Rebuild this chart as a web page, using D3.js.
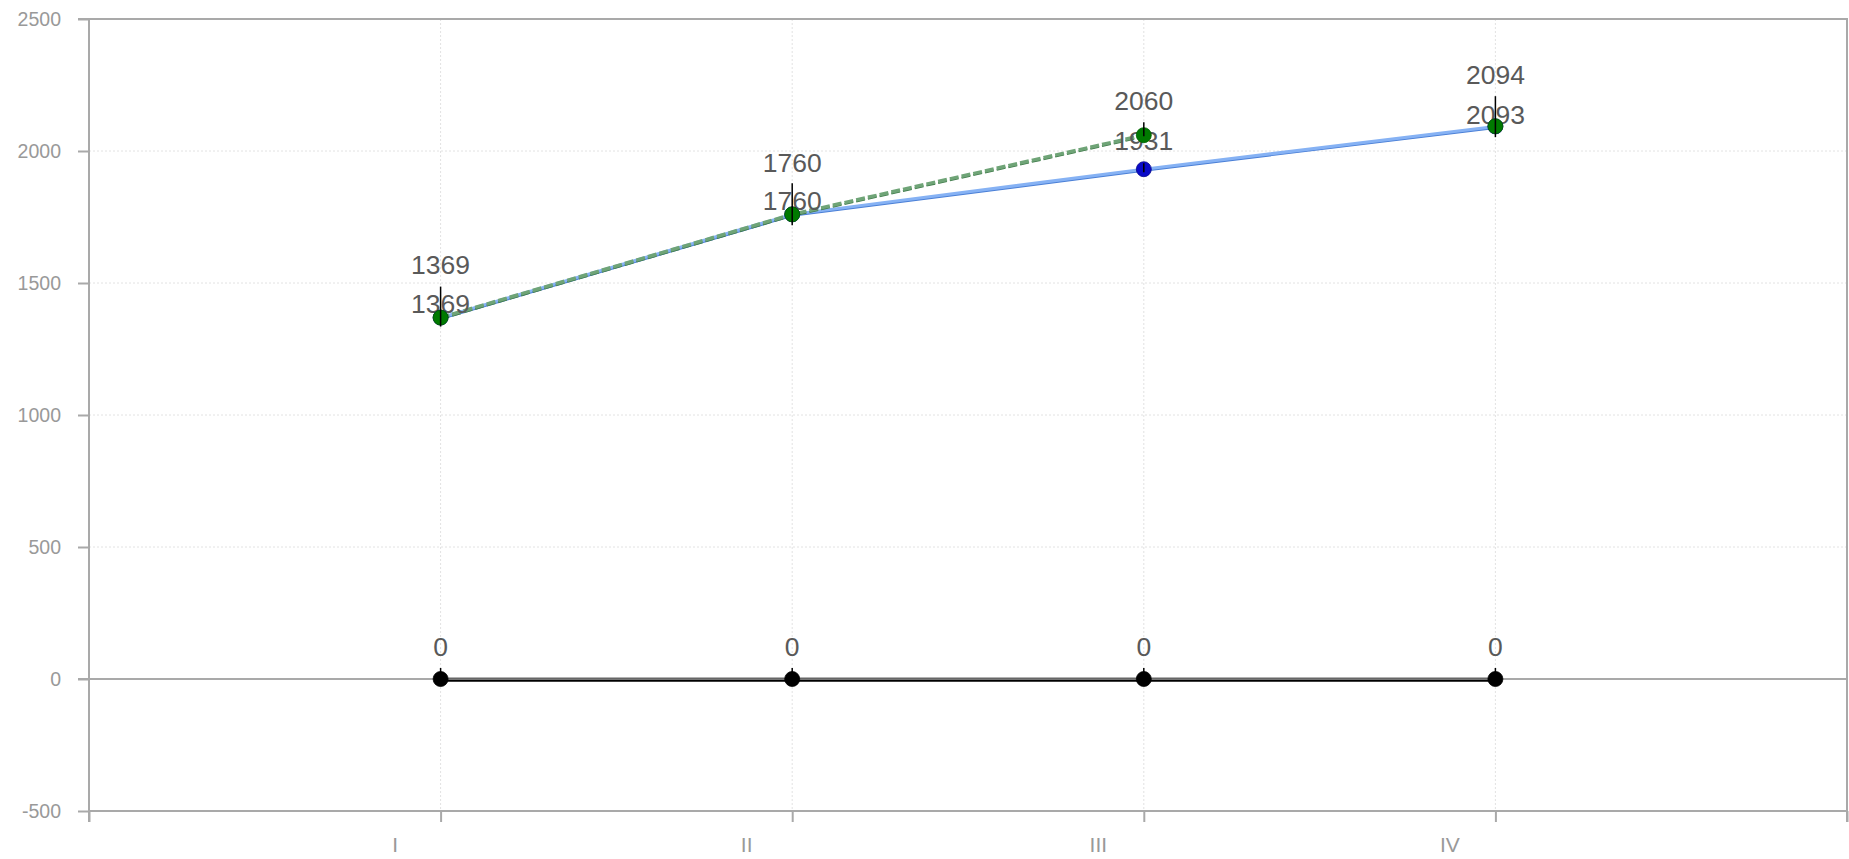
<!DOCTYPE html>
<html>
<head>
<meta charset="utf-8">
<script src="https://cdn.jsdelivr.net/npm/d3@7"></script>
<style>
  html, body { margin: 0; padding: 0; background: #fff; }
  svg { display: block; font-family: "Liberation Sans", Arial, Helvetica, sans-serif; }
</style>
</head>
<body>
<svg id="chart" width="1849" height="859"></svg>
<script>
// ---- data ----
const categories = ["I", "II", "III", "IV"];
const blueValues = [1369, 1760, 1931, 2093];
const greenValues = [1369, 1760, 2060, 2094];
const zeroValues = [0, 0, 0, 0];
const yTickValues = [-500, 0, 500, 1000, 1500, 2000, 2500];
const xTickValues = [0, 1, 2, 3, 4, 5];

// ---- layout (pixels, not data) ----
const plotL = 89, plotR = 1847, plotT = 19, plotB = 811;
const greenLabelDy = [-44, -42, -25, -42];
const blueLabelDy = [-5, -4, -19, -2];
const zeroLabelDy = -23;
const greenSpike = [[-31, 9], [-31, 11], [-13, 1], [-30, 11]];
const blueSpike = [null, null, [-6, 3], null];
const zeroSpike = [-11, 0];

const svg = d3.select("#chart");
const x = d3.scaleLinear().domain([0, 5]).range([plotL, plotR]);
const y = d3.scaleLinear().domain([-500, 2500]).range([plotB, plotT]);
const xi = i => x(i + 1);

const axisColor = "#a9a9a9";

// grid
const grid = svg.append("g");
grid.selectAll("line.h").data(yTickValues.filter(v => v > -500 && v < 2500 && v !== 0)).join("line")
  .attr("x1", plotL).attr("x2", plotR).attr("y1", d => y(d)).attr("y2", d => y(d))
  .attr("stroke", "#e2e2e2").attr("stroke-width", 1).attr("stroke-dasharray", "2,2");
grid.append("g").selectAll("line").data(categories).join("line")
  .attr("x1", (d, i) => xi(i)).attr("x2", (d, i) => xi(i)).attr("y1", plotT).attr("y2", plotB)
  .attr("stroke", "#e2e2e2").attr("stroke-width", 1).attr("stroke-dasharray", "2,2");

// y axis
const yAxis = d3.axisLeft(y).tickValues(yTickValues).tickSize(11).tickPadding(17).tickFormat(d => String(d));
const gy = svg.append("g").attr("transform", `translate(${plotL},0)`).call(yAxis);
gy.select(".domain").attr("stroke", axisColor).attr("stroke-width", 2).attr("d", `M0,${plotT}V${plotB + 11}`);
gy.selectAll(".tick line").attr("stroke", axisColor).attr("stroke-width", 2);
gy.selectAll(".tick text").attr("fill", "#999").attr("font-size", 19.5).attr("font-family", "Liberation Sans, Arial, sans-serif");

// x axis
const xAxis = d3.axisBottom(x).tickValues(xTickValues).tickSize(11).tickPadding(15)
  .tickFormat(d => (d >= 1 && d <= 4) ? categories[d - 1] : "");
const gx = svg.append("g").attr("transform", `translate(0,${plotB})`).call(xAxis);
gx.select(".domain").attr("stroke", axisColor).attr("stroke-width", 2).attr("d", `M${plotL},0H${plotR}`);
gx.selectAll(".tick line").attr("stroke", axisColor).attr("stroke-width", 2);
gx.selectAll(".tick text").attr("fill", "#999").attr("font-size", 21).attr("dx", -46)
  .attr("font-family", "Liberation Sans, Arial, sans-serif");

// top + right border
svg.append("path").attr("d", `M${plotL - 11},${plotT}H${plotR}V${plotB + 11}`)
  .attr("fill", "none").attr("stroke", axisColor).attr("stroke-width", 2);
// zero line
svg.append("line").attr("x1", plotL - 11).attr("x2", plotR).attr("y1", y(0)).attr("y2", y(0))
  .attr("stroke", axisColor).attr("stroke-width", 2);

const line = d3.line().x((d, i) => xi(i)).y(d => y(d));

// blue line
svg.append("path").datum(blueValues).attr("d", line).attr("fill", "none")
  .attr("stroke", "#4a7fd6").attr("stroke-width", 2).attr("transform", "translate(0,1.5)");
svg.append("path").datum(blueValues).attr("d", line).attr("fill", "none")
  .attr("stroke", "#86b2f4").attr("stroke-width", 3);

// green dashed line (drawn through III)
const greenLine = greenValues.slice(0, 3);
svg.append("path").datum(greenLine).attr("d", line).attr("fill", "none")
  .attr("stroke", "#3f7a4a").attr("stroke-width", 2).attr("stroke-dasharray", "9,3")
  .attr("transform", "translate(0,1.5)");
svg.append("path").datum(greenLine).attr("d", line).attr("fill", "none")
  .attr("stroke", "#6fa477").attr("stroke-width", 3.5).attr("stroke-dasharray", "9,3");

// zero line series
svg.append("path").datum(zeroValues).attr("d", line).attr("fill", "none")
  .attr("stroke", "#000").attr("stroke-width", 1.8).attr("transform", "translate(0,1.8)");
svg.append("path").datum(zeroValues).attr("d", line).attr("fill", "none")
  .attr("stroke", "#666").attr("stroke-width", 2.2).attr("transform", "translate(0,-0.4)");

// labels
const labelFont = 26.5;
function labels(vals, dys) {
  svg.append("g").selectAll("text").data(vals).join("text")
    .attr("x", (d, i) => xi(i)).attr("y", (d, i) => y(d) + (Array.isArray(dys) ? dys[i] : dys))
    .attr("text-anchor", "middle").attr("font-size", labelFont).attr("fill", "#595959")
    .text(d => d);
}
labels(greenValues, greenLabelDy);
labels(blueValues, blueLabelDy);
labels(zeroValues, zeroLabelDy);

// points
function points(vals, color, stroke) {
  svg.append("g").selectAll("circle").data(vals).join("circle")
    .attr("cx", (d, i) => xi(i)).attr("cy", d => y(d)).attr("r", 7.5)
    .attr("fill", color).attr("stroke", stroke).attr("stroke-width", 0.8);
}
points(blueValues, "#0a0ac8", "#06068a");
points(zeroValues, "#000", "#000");
points(greenValues, "#007a00", "#006000");

// spikes
function spikes(vals, ext) {
  const items = vals.map((v, i) => ({ v, i, e: (Array.isArray(ext[0]) || ext[0] === null) ? ext[i] : ext }))
    .filter(d => d.e);
  svg.append("g").selectAll("line").data(items).join("line")
    .attr("x1", d => xi(d.i)).attr("x2", d => xi(d.i))
    .attr("y1", d => y(d.v) + d.e[0]).attr("y2", d => y(d.v) + d.e[1])
    .attr("stroke", "#000").attr("stroke-width", 1.5);
}
spikes(greenValues, greenSpike);
spikes(blueValues, blueSpike);
spikes(zeroValues, zeroSpike);
</script>
</body>
</html>
